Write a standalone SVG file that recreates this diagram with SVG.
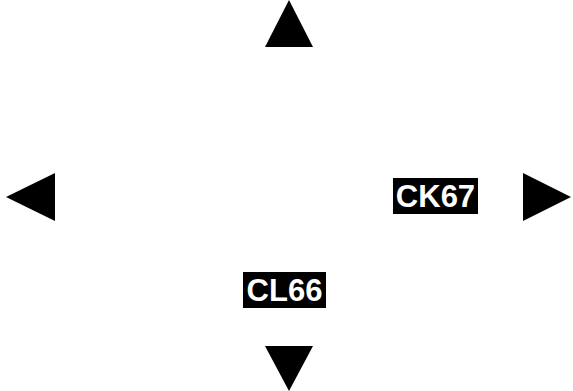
<svg xmlns="http://www.w3.org/2000/svg" width="573" height="391" viewBox="0 0 573 391">
<style>
.arrow{fill:#000;}
.lblbg{fill:#000;}
.lbl{fill:#fff;font-family:"Liberation Sans",Arial,sans-serif;font-weight:bold;font-size:31px;text-anchor:middle;}
</style>
<rect width="573" height="391" fill="#fff"/>
<g id="connectors">
<polygon class="arrow" points="289,0 313,47 265,47"/>
<polygon class="arrow" points="6,197 55,173 55,221"/>
<polygon class="arrow" points="571,197 523,173 523,221"/>
<polygon class="arrow" points="289,391 313,346 265,346"/>
</g>
<g id="label-CK67">
<rect class="lblbg" x="393" y="178" width="85" height="36"/>
<text class="lbl" x="435.5" y="206.5">CK67</text>
</g>
<g id="label-CL66">
<rect class="lblbg" x="243" y="272" width="83" height="36"/>
<text class="lbl" x="284.5" y="301">CL66</text>
</g>
</svg>
